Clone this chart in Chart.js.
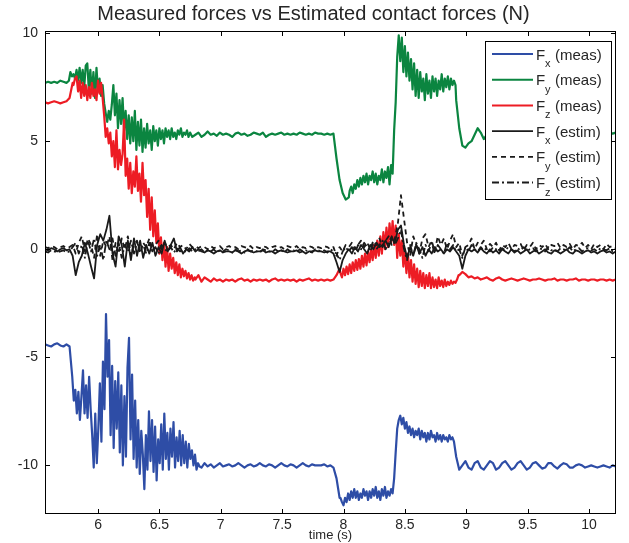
<!DOCTYPE html>
<html lang="en">
<head>
<meta charset="UTF-8">
<title>Measured forces vs Estimated contact forces</title>
<script src="https://cdn.jsdelivr.net/npm/chart.js"></script>
<style>
  html, body { margin: 0; padding: 0; background: #fff; }
  #wrap { width: 629px; height: 543px; }
</style>
</head>
<body>
<div id="wrap"><canvas id="forceChart" width="629" height="543"></canvas></div>
<script>
// coarse sampling grid (s)
const T0 = 5.568;
const DT = 0.025;
// fine sampling used for the noisy stretches (s)
const DT2 = 0.0125;

// measured forces (N), one value per coarse sample
const fxMeas = [
  -4.4,-4.45,-4.5,-4.4,-4.35,-4.45,-4.5,-4.4,-4.5,-6.6,
  -7.2,-7.9,-6.4,-5.6,-7.5,-5.9,-10.1,-8.2,-6.2,-9.0,
  -3.0,-5.2,-8.6,-5.6,-9.2,-6.0,-9.5,-6.4,-10.0,-4.1,
  -9.4,-7.0,-9.8,-7.6,-10.4,-11.1,-8.4,-7.5,-9.8,-8.2,
  -10.7,-8.6,-9.9,-7.6,-10.2,-8.8,-10.0,-8.4,-9.9,-8.9,
  -9.6,-10.1,-9.9,-10.05,-9.95,-10.1,-10.0,-9.9,-10.05,-10.0,
  -9.95,-10.05,-10.0,-9.9,-10.0,-10.1,-10.0,-9.95,-10.05,-10.0,
  -9.9,-10.0,-10.05,-9.95,-10.0,-10.1,-10.0,-9.9,-10.0,-10.05,
  -9.95,-10.0,-10.1,-10.0,-9.9,-10.0,-10.05,-9.95,-10.0,-10.0,
  -10.0,-9.95,-10.05,-10.0,-10.1,-10.6,-11.5,-11.8,-11.6,-11.4,
  -11.5,-11.2,-11.4,-11.3,-11.5,-11.2,-11.4,-11.3,-11.1,-11.4,
  -11.2,-11.4,-11.2,-11.3,-9.5,-8.1,-7.7,-8.0,-8.3,-8.0,
  -8.5,-8.3,-8.7,-8.5,-8.6,-8.4,-8.7,-8.5,-8.8,-8.6,
  -8.7,-8.6,-8.8,-8.7,-9.6,-10.2,-10.0,-9.8,-10.1,-10.2,
  -9.9,-9.8,-10.1,-10.2,-10.0,-9.8,-9.9,-10.2,-10.1,-9.9,
  -9.8,-10.0,-10.2,-10.1,-9.9,-9.8,-10.0,-10.2,-10.1,-9.9,
  -9.85,-10.0,-10.15,-10.1,-9.9,-9.9,-10.05,-10.15,-10.0,-9.9,
  -9.95,-10.1,-10.1,-10.0,-9.95,-10.0,-10.1,-10.05,-10.0,-10.05,
  -10.1,-10.05,-10.0,-10.05,-10.1,-10.0,-10.05
];
const fyMeas = [
  7.7,7.75,7.7,7.75,7.7,7.8,7.75,7.7,8.2,8.1,
  7.9,8.3,7.8,8.1,8.6,7.4,8.3,7.1,8.0,7.3,
  6.8,6.0,5.9,7.6,6.2,7.1,5.7,6.4,4.8,6.2,
  5.0,5.9,4.6,5.6,4.9,5.8,4.7,5.5,5.0,5.6,
  5.1,5.5,4.9,5.6,5.2,5.4,5.1,5.6,5.2,5.3,
  5.4,5.2,5.3,5.45,5.3,5.35,5.25,5.4,5.3,5.35,
  5.3,5.2,5.35,5.4,5.3,5.35,5.25,5.3,5.4,5.35,
  5.3,5.4,5.2,5.3,5.35,5.3,5.35,5.4,5.3,5.35,
  5.3,5.35,5.3,5.4,5.35,5.3,5.35,5.3,5.4,5.35,
  5.35,5.3,5.35,5.3,5.35,4.2,3.2,2.6,2.3,2.4,
  2.7,2.9,3.0,3.2,3.1,3.4,3.3,3.5,3.2,3.6,
  3.3,3.5,3.1,3.6,3.0,5.6,7.2,9.9,8.8,9.5,
  8.2,9.0,7.9,8.4,7.5,8.1,7.2,8.0,7.0,7.9,
  7.3,7.8,7.4,7.7,6.9,5.6,4.8,4.7,4.9,5.0,
  5.3,5.6,5.4,5.1,5.3,5.4,5.35,5.5,5.3,5.4,
  5.45,5.3,5.4,5.5,5.35,5.4,5.45,5.3,5.4,5.5,
  5.4,5.35,5.45,5.4,5.3,5.45,5.5,5.4,5.35,5.45,
  5.4,5.5,5.45,5.35,5.4,5.5,5.45,5.4,5.35,5.45,
  5.5,5.4,5.45,5.5,5.4,5.35,5.4
];
const fzMeas = [
  6.8,6.75,6.8,6.85,6.8,6.75,6.8,6.85,7.0,7.7,
  8.0,7.6,7.8,7.0,7.5,7.1,7.6,6.9,7.7,7.0,
  5.6,4.9,5.5,4.0,4.6,3.8,6.0,3.3,4.2,2.8,
  3.7,2.6,4.0,2.2,3.0,1.0,2.4,0.6,1.5,-0.2,
  0.5,-0.6,0.2,-1.0,-0.4,-1.2,-0.7,-1.3,-1.0,-1.4,
  -1.2,-1.5,-1.3,-1.4,-1.5,-1.35,-1.45,-1.4,-1.5,-1.4,
  -1.45,-1.4,-1.5,-1.4,-1.35,-1.45,-1.4,-1.5,-1.4,-1.45,
  -1.4,-1.45,-1.4,-1.5,-1.4,-1.35,-1.45,-1.4,-1.45,-1.4,
  -1.45,-1.4,-1.5,-1.4,-1.45,-1.4,-1.35,-1.45,-1.4,-1.45,
  -1.4,-1.45,-1.4,-1.45,-1.4,-1.2,-0.9,-1.1,-0.6,-1.0,
  -0.5,-0.9,-0.3,-0.8,-0.2,-0.6,0.0,-0.5,0.3,-0.2,
  0.6,0.1,1.0,1.3,0.4,1.1,-0.3,0.2,-0.8,-0.2,
  -1.2,-0.5,-1.5,-0.8,-1.7,-1.1,-1.8,-1.2,-1.7,-1.3,
  -1.8,-1.4,-1.7,-1.5,-1.6,-1.2,-1.05,-1.15,-1.3,-1.25,
  -1.35,-1.3,-1.4,-1.35,-1.3,-1.4,-1.45,-1.35,-1.3,-1.4,
  -1.45,-1.4,-1.35,-1.4,-1.45,-1.4,-1.35,-1.4,-1.45,-1.4,
  -1.4,-1.35,-1.4,-1.45,-1.4,-1.4,-1.35,-1.45,-1.4,-1.4,
  -1.45,-1.4,-1.4,-1.35,-1.45,-1.4,-1.4,-1.45,-1.4,-1.4,
  -1.45,-1.4,-1.4,-1.45,-1.4,-1.45,-1.4
];

// fine-sampled noisy stretches: start time + values every DT2
const fxMeasStartA = 5.79;
const fxMeasA = [
  -5.9,-7.0,-6.5,-7.6,-6.6,-7.9,-6.8,-5.6,-7.6,-6.3,
  -7.8,-5.9,-7.4,-8.6,-10.1,-7.6,-9.9,-8.3,-6.2,-8.9,
  -5.2,-7.4,-3.0,-5.9,-4.2,-8.6,-5.4,-9.2,-6.1,-8.3,
  -5.7,-9.4,-6.3,-10.0,-6.8,-9.6,-5.5,-4.1,-8.8,-5.8,
  -9.7,-7.0,-10.1,-7.9,-10.4,-8.4,-9.5,-11.1,-8.6,-10.2,
  -7.5,-9.8,-7.9,-10.3,-8.2,-10.7,-8.8,-9.9,-8.1,-10.2,
  -7.6,-9.7,-8.5,-10.2,-8.3,-9.6,-8.0,-10.1,-8.7,-9.8,
  -8.4,-10.0,-8.6,-9.9,-8.9,-10.1,-9.0,-9.7,-9.3,-10.0,
  -9.5,-10.2,-9.9,-10.05
];
const fxMeasStartB = 7.975;
const fxMeasB = [
  -11.5,-11.7,-11.85,-11.5,-11.7,-11.3,-11.6,-11.2,-11.5,-11.1,
  -11.5,-11.2,-11.6,-11.3,-11.5,-11.1,-11.4,-11.2,-11.6,-11.2,
  -11.5,-11.1,-11.4,-11.0,-11.5,-11.2,-11.6,-11.1,-11.4,-11.0,
  -11.5,-11.2,-11.4,-11.1,-11.3,-10.6,-9.4,-8.3,-7.9,-7.7,
  -8.1,-7.8,-8.3,-8.0,-8.5,-8.2,-8.6,-8.3,-8.7,-8.4,
  -8.6,-8.3,-8.8,-8.4,-8.7,-8.5,-8.9,-8.5,-8.8,-8.4,
  -8.7,-8.6,-8.9,-8.5,-8.8,-8.6,-8.9,-8.6,-8.8,-8.7,
  -8.9,-8.6,-8.8,-8.7,-8.9
];
const fyMeasStartA = 5.7625;
const fyMeasA = [
  7.8,8.2,8.0,8.1,7.9,8.3,7.8,8.4,7.7,8.3,
  7.5,8.5,8.6,7.4,8.3,7.2,8.2,7.0,8.4,7.3,
  7.9,7.1,7.6,6.75,6.3,5.9,6.4,6.0,6.7,7.6,
  6.2,7.2,5.6,6.9,5.8,7.0,5.5,6.4,5.1,6.2,
  4.9,6.1,5.0,6.4,4.6,5.9,4.8,6.0,4.5,5.6,
  4.7,5.8,4.9,5.5,4.6,5.7,5.0,5.5,4.8,5.6,
  5.1,5.5,4.9,5.6,5.2,5.5,5.1,5.6,5.2,5.4,
  5.1,5.5,5.3,5.6,5.2,5.4,5.3,5.5,5.2,5.4
];
const fyMeasStartB = 8.05;
const fyMeasB = [
  2.7,2.9,2.6,3.0,2.8,3.2,2.9,3.3,3.0,3.4,
  3.1,3.5,3.0,3.4,3.2,3.6,3.1,3.5,3.0,3.4,
  3.2,3.7,3.1,3.6,3.3,3.8,3.0,3.9,3.5,5.5,
  6.8,8.9,9.9,8.7,9.8,8.2,9.4,8.0,9.1,7.8,
  8.8,7.4,8.6,7.1,8.3,7.0,8.2,7.3,7.9,6.9,
  8.1,7.2,7.8,7.0,8.0,7.3,7.9,7.1,7.8,7.4,
  8.1,7.3,7.9,7.5,8.0,7.4,7.9,7.6,7.8,7.6
];
const fzMeasStartA = 5.8;
const fzMeasA = [
  7.6,7.9,8.0,7.3,7.8,7.0,7.7,7.1,7.6,6.9,
  7.5,7.0,7.7,7.1,7.4,6.9,7.8,7.2,7.7,7.0,
  6.2,5.2,5.6,4.9,5.4,4.3,5.0,3.8,5.5,3.7,
  4.6,3.9,4.4,6.0,3.4,4.2,2.8,4.0,2.6,3.6,
  2.9,4.3,2.7,3.5,2.2,4.0,2.5,3.2,1.5,2.8,
  0.9,2.4,0.6,1.8,0.3,1.2,-0.2,0.55,-0.5,0.3,
  -0.8,0.1,-1.0,-0.2,-0.9,-0.4,-1.1,-0.6,-1.2,-0.7,
  -1.3,-0.9,-1.25,-1.0,-1.35,-1.1,-1.4,-1.2,-1.45,-1.3
];
const fzMeasStartB = 7.975;
const fzMeasB = [
  -1.1,-1.3,-0.9,-1.2,-0.8,-1.15,-0.7,-1.1,-0.6,-1.0,
  -0.5,-0.95,-0.45,-0.9,-0.3,-0.8,-0.2,-0.75,-0.1,-0.6,
  0.0,-0.5,0.2,-0.4,0.4,-0.3,0.6,-0.2,0.8,0.0,
  1.0,0.1,1.2,0.3,1.3,0.2,1.1,-0.4,0.7,-0.3,
  0.4,-0.8,0.0,-1.1,-0.2,-1.3,-0.5,-1.5,-0.7,-1.6,
  -0.9,-1.75,-1.0,-1.7,-1.1,-1.8,-1.2,-1.7,-1.1,-1.8,
  -1.3,-1.75,-1.4,-1.8,-1.3,-1.7,-1.45,-1.75,-1.4,-1.7,
  -1.5,-1.65,-1.45,-1.6,-1.5,-1.55,-1.4,-1.2
];

// estimated contact forces (N)
const fxEst = [
  0.0,-0.05,0.05,0.0,-0.1,0.0,0.05,-0.05,0.0,-0.3,
  -1.2,-0.6,-0.3,0.3,-0.2,-0.8,-1.35,0.2,0.7,0.4,
  0.9,1.55,-0.2,-0.8,0.6,0.2,-0.8,0.4,-0.5,0.5,
  -0.3,0.4,-0.4,0.2,-0.2,0.3,-0.3,0.1,-0.2,0.4,
  -0.1,0.2,0.5,-0.1,0.1,-0.2,0.0,-0.1,0.1,-0.1,
  0.0,-0.1,-0.15,-0.05,-0.1,-0.2,-0.1,-0.05,-0.15,-0.1,
  -0.1,-0.15,-0.05,-0.1,-0.2,-0.1,-0.05,-0.1,-0.15,-0.1,
  -0.1,-0.05,-0.15,-0.1,-0.1,-0.2,-0.1,-0.05,-0.1,-0.15,
  -0.1,-0.1,-0.05,-0.15,-0.1,-0.2,-0.1,-0.1,-0.05,-0.1,
  -0.1,-0.15,-0.1,-0.1,-0.2,-0.6,-1.05,-0.5,-0.2,0.0,
  -0.2,0.1,-0.1,0.2,0.0,-0.2,0.2,0.0,0.3,0.1,
  0.2,0.4,0.1,0.5,0.3,0.9,1.1,0.2,-0.4,0.1,
  -0.3,0.2,-0.2,0.1,-0.3,0.0,-0.2,0.1,-0.1,0.0,
  -0.2,0.0,-0.1,0.1,-0.1,-0.3,-0.9,-0.3,0.0,-0.1,
  0.0,-0.15,0.05,-0.1,-0.2,0.0,-0.15,-0.05,-0.2,0.0,
  -0.1,-0.2,0.0,-0.15,-0.05,-0.2,-0.1,0.0,-0.2,-0.1,
  -0.05,-0.2,-0.1,0.0,-0.15,-0.2,-0.05,-0.1,-0.2,-0.1,
  0.0,-0.15,-0.2,-0.05,-0.1,-0.2,-0.1,-0.05,-0.15,-0.1,
  -0.2,-0.1,-0.05,-0.15,-0.1,-0.2,-0.1
];
const fyEst = [
  0.1,0.05,0.15,0.1,0.0,0.1,0.15,0.05,0.1,0.2,
  -0.2,0.3,0.6,-0.1,0.5,0.2,-0.4,0.7,-0.3,0.4,
  0.1,0.6,-0.5,0.3,-0.2,0.5,0.0,0.6,-0.3,0.2,
  0.4,-0.2,0.3,0.1,0.5,-0.1,0.2,0.4,0.0,0.3,
  0.1,0.2,0.0,0.3,0.1,0.2,0.0,0.25,0.1,0.15,
  0.05,0.15,0.1,0.0,0.15,0.05,0.1,0.15,0.0,0.1,
  0.15,0.05,0.1,0.0,0.15,0.1,0.05,0.15,0.0,0.1,
  0.05,0.15,0.1,0.0,0.1,0.15,0.05,0.1,0.0,0.15,
  0.1,0.05,0.15,0.0,0.1,0.05,0.15,0.1,0.0,0.1,
  0.05,0.15,0.1,0.0,0.1,-0.3,0.1,-0.1,0.2,0.1,
  0.3,0.0,0.2,0.4,0.1,0.3,0.0,0.4,0.2,0.5,
  0.1,0.4,0.6,0.2,0.5,1.2,2.5,1.4,0.3,-0.3,
  0.6,0.2,-0.2,0.5,0.7,0.1,0.4,-0.1,0.6,0.2,
  0.5,0.0,0.4,0.7,0.1,0.3,-0.3,0.1,0.2,0.5,
  0.0,0.3,0.2,0.4,0.0,0.25,0.1,0.3,-0.05,0.2,
  0.1,0.3,0.0,0.2,0.15,0.25,-0.05,0.2,0.1,0.3,
  0.0,0.2,0.1,0.25,0.0,0.2,0.15,0.3,0.05,0.2,
  0.1,0.25,0.0,0.2,0.15,0.3,0.05,0.2,0.0,0.25,
  0.1,0.2,0.0,0.25,0.1,0.15,0.05
];
const fzEst = [
  -0.1,-0.15,-0.05,-0.1,-0.15,-0.1,-0.05,-0.15,-0.1,0.1,
  0.3,-0.2,0.2,-0.4,0.4,-0.1,0.5,-0.3,0.2,-0.5,
  0.4,0.0,0.5,-0.3,0.3,-0.4,0.2,-0.1,0.4,-0.2,
  0.3,0.0,0.2,-0.2,0.3,-0.1,0.1,-0.2,0.2,0.0,
  -0.1,0.1,-0.15,0.05,-0.1,0.0,-0.15,0.05,-0.1,0.0,
  -0.1,0.0,-0.15,-0.05,-0.1,0.0,-0.15,-0.05,-0.1,0.0,
  -0.05,-0.15,0.0,-0.1,-0.05,-0.15,0.0,-0.1,-0.05,-0.1,
  -0.15,0.0,-0.05,-0.1,-0.15,0.0,-0.1,-0.05,-0.15,0.0,
  -0.1,-0.05,-0.15,0.0,-0.1,-0.05,-0.1,-0.15,0.0,-0.05,
  -0.1,-0.05,-0.15,0.0,-0.1,-0.2,-0.5,-0.1,0.1,-0.1,
  0.1,-0.2,0.2,0.0,0.3,0.1,-0.1,0.3,0.0,0.2,
  0.4,0.0,0.3,0.6,0.2,0.5,0.9,0.0,-0.5,0.2,
  -0.3,0.3,0.0,-0.4,0.2,-0.1,0.3,-0.2,0.2,0.0,
  -0.2,0.3,0.0,0.2,-0.1,0.0,-0.4,0.1,-0.1,0.2,
  0.0,-0.1,0.1,-0.05,0.05,-0.1,0.1,0.0,-0.1,0.05,
  -0.05,0.1,0.0,-0.1,0.05,-0.05,0.1,-0.1,0.0,0.05,
  -0.1,0.05,0.0,-0.1,0.1,-0.05,0.0,-0.1,0.05,0.0,
  -0.05,0.1,-0.1,0.0,0.05,-0.1,0.0,0.05,-0.05,0.0,
  -0.1,0.05,0.0,-0.05,0.05,-0.1,0.0
];

const TXT = '#262626';
const FONT = '"Liberation Sans", Arial, Helvetica, sans-serif';

// coarse samples, with the fine stretches swapped in where given
function pts(base, fine) {
  fine = fine || [];
  const inFine = t => fine.some(([s, vals]) =>
    t >= s - 1e-9 && t <= s + (vals.length - 1) * DT2 + 1e-9);
  const out = [];
  base.forEach((v, i) => {
    const t = T0 + i * DT;
    if (!inFine(t)) out.push({ x: t, y: v });
  });
  fine.forEach(([s, vals]) => vals.forEach((v, k) => out.push({ x: s + k * DT2, y: v })));
  out.sort((a, b) => a.x - b.x);
  return out;
}

// name, subscript, tag, points, colour, dash, width, order
const series = [
  ['F', 'x', '(meas)', pts(fxMeas, [[fxMeasStartA, fxMeasA], [fxMeasStartB, fxMeasB]]), '#2e4da6', [], 2.2, 6],
  ['F', 'y', '(meas)', pts(fyMeas, [[fyMeasStartA, fyMeasA], [fyMeasStartB, fyMeasB]]), '#0b8540', [], 2.2, 5],
  ['F', 'z', '(meas)', pts(fzMeas, [[fzMeasStartA, fzMeasA], [fzMeasStartB, fzMeasB]]), '#ed1c24', [], 2.2, 4],
  ['F', 'x', '(estim)', pts(fxEst), '#1a1a1a', [], 1.8, 3],
  ['F', 'y', '(estim)', pts(fyEst), '#1a1a1a', [5, 4], 1.8, 2],
  ['F', 'z', '(estim)', pts(fzEst), '#1a1a1a', [7, 3, 2, 3], 1.8, 1]
];

// MATLAB style box, inward ticks and legend
const boxPlugin = {
  id: 'matlabBox',
  afterDatasetsDraw(chart) {
    const { ctx, chartArea: a, scales } = chart;
    ctx.save();
    ctx.strokeStyle = '#000';
    ctx.lineWidth = 1;
    ctx.setLineDash([]);
    ctx.strokeRect(Math.round(a.left) + 0.5, Math.round(a.top) + 0.5,
      Math.round(a.right - a.left) - 1, Math.round(a.bottom - a.top) - 1);
    const tl = 5;
    ctx.beginPath();
    scales.x.ticks.forEach(t => {
      const px = Math.round(scales.x.getPixelForValue(t.value)) + 0.5;
      ctx.moveTo(px, a.bottom); ctx.lineTo(px, a.bottom - tl);
      ctx.moveTo(px, a.top); ctx.lineTo(px, a.top + tl);
    });
    scales.y.ticks.forEach(t => {
      const py = Math.round(scales.y.getPixelForValue(t.value)) + 0.5;
      ctx.moveTo(a.left, py); ctx.lineTo(a.left + tl, py);
      ctx.moveTo(a.right, py); ctx.lineTo(a.right - tl, py);
    });
    ctx.stroke();

    // legend
    const lx = 485, ly = 41, lw = 126, lh = 158, rowH = 25.7;
    ctx.fillStyle = '#fff';
    ctx.fillRect(lx, ly, lw, lh);
    ctx.strokeStyle = '#000';
    ctx.strokeRect(lx + 0.5, ly + 0.5, lw, lh);
    series.forEach((s, k) => {
      const cy = ly + 13 + k * rowH;
      ctx.strokeStyle = s[4];
      ctx.lineWidth = Math.min(s[6], 2);
      ctx.setLineDash(s[5]);
      ctx.beginPath();
      ctx.moveTo(lx + 7, cy);
      ctx.lineTo(lx + 48, cy);
      ctx.stroke();
      ctx.setLineDash([]);
      ctx.fillStyle = TXT;
      ctx.textBaseline = 'alphabetic';
      ctx.textAlign = 'left';
      ctx.font = '15px ' + FONT;
      ctx.fillText(s[0], lx + 51, cy + 5.5);
      ctx.font = '11px ' + FONT;
      ctx.fillText(s[1], lx + 60, cy + 13);
      ctx.font = '15px ' + FONT;
      ctx.fillText(s[2], lx + 70, cy + 5.5);
    });
    ctx.restore();
  }
};

new Chart(document.getElementById('forceChart'), {
  type: 'line',
  data: {
    datasets: series.map(s => ({
      label: s[0] + s[1] + ' ' + s[2],
      data: s[3],
      borderColor: s[4],
      borderWidth: s[6],
      borderDash: s[5],
      borderJoinStyle: 'round',
      order: s[7],
      pointRadius: 0,
      tension: 0,
      fill: false
    }))
  },
  options: {
    responsive: false,
    animation: false,
    parsing: false,
    layout: { padding: { left: 11, right: 13, top: 0, bottom: 0 } },
    plugins: {
      legend: { display: false },
      tooltip: { enabled: false },
      title: {
        display: true,
        text: 'Measured forces vs Estimated contact forces (N)',
        color: TXT,
        font: { family: FONT, size: 20, weight: 'normal' },
        padding: { top: 2, bottom: 5 }
      }
    },
    scales: {
      x: {
        type: 'linear',
        min: 5.568,
        max: 10.22,
        grid: { display: false, drawTicks: false },
        border: { display: false },
        ticks: {
          stepSize: 0.5,
          includeBounds: false,
          color: TXT,
          padding: 3,
          maxRotation: 0,
          font: { family: FONT, size: 14 },
          callback: v => String(Math.round(v * 10) / 10)
        },
        title: {
          display: true,
          text: 'time (s)',
          color: TXT,
          padding: 0,
          font: { family: FONT, size: 13 }
        },
        afterFit(s) { s.height = 29; }
      },
      y: {
        type: 'linear',
        min: -12.25,
        max: 10.1,
        grid: { display: false, drawTicks: false },
        border: { display: false },
        ticks: {
          stepSize: 5,
          includeBounds: false,
          color: TXT,
          padding: 7,
          font: { family: FONT, size: 14 }
        },
        afterFit(s) { s.width = 34; }
      }
    }
  },
  plugins: [boxPlugin]
});
</script>
</body>
</html>
